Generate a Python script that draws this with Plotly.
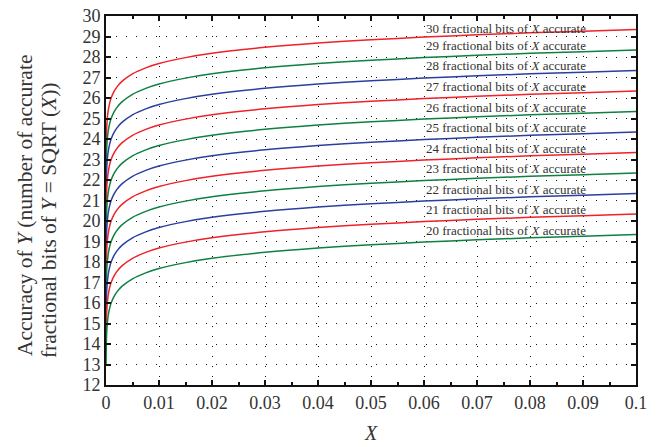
import plotly.graph_objects as go

# X values (sample positions)
x_vals = [0.0000153, 0.00003, 0.00006, 0.0001, 0.0002, 0.0004, 0.0007, 0.001, 0.0015,
          0.002, 0.003, 0.005, 0.0075, 0.01, 0.015, 0.02, 0.03, 0.04, 0.05, 0.06,
          0.07, 0.08, 0.09, 0.1]

acc_30 = [23.00, 23.49, 23.99, 24.36, 24.86, 25.36, 25.76, 26.02, 26.31, 26.52, 26.81, 27.18, 27.47, 27.68, 27.97, 28.18, 28.47, 28.68, 28.84, 28.97, 29.08, 29.18, 29.26, 29.34]
acc_29 = [22.00, 22.49, 22.99, 23.36, 23.86, 24.36, 24.76, 25.02, 25.31, 25.52, 25.81, 26.18, 26.47, 26.68, 26.97, 27.18, 27.47, 27.68, 27.84, 27.97, 28.08, 28.18, 28.26, 28.34]
acc_28 = [21.00, 21.49, 21.99, 22.36, 22.86, 23.36, 23.76, 24.02, 24.31, 24.52, 24.81, 25.18, 25.47, 25.68, 25.97, 26.18, 26.47, 26.68, 26.84, 26.97, 27.08, 27.18, 27.26, 27.34]
acc_27 = [20.00, 20.49, 20.99, 21.36, 21.86, 22.36, 22.76, 23.02, 23.31, 23.52, 23.81, 24.18, 24.47, 24.68, 24.97, 25.18, 25.47, 25.68, 25.84, 25.97, 26.08, 26.18, 26.26, 26.34]
acc_26 = [19.00, 19.49, 19.99, 20.36, 20.86, 21.36, 21.76, 22.02, 22.31, 22.52, 22.81, 23.18, 23.47, 23.68, 23.97, 24.18, 24.47, 24.68, 24.84, 24.97, 25.08, 25.18, 25.26, 25.34]
acc_25 = [18.00, 18.49, 18.99, 19.36, 19.86, 20.36, 20.76, 21.02, 21.31, 21.52, 21.81, 22.18, 22.47, 22.68, 22.97, 23.18, 23.47, 23.68, 23.84, 23.97, 24.08, 24.18, 24.26, 24.34]
acc_24 = [17.00, 17.49, 17.99, 18.36, 18.86, 19.36, 19.76, 20.02, 20.31, 20.52, 20.81, 21.18, 21.47, 21.68, 21.97, 22.18, 22.47, 22.68, 22.84, 22.97, 23.08, 23.18, 23.26, 23.34]
acc_23 = [16.00, 16.49, 16.99, 17.36, 17.86, 18.36, 18.76, 19.02, 19.31, 19.52, 19.81, 20.18, 20.47, 20.68, 20.97, 21.18, 21.47, 21.68, 21.84, 21.97, 22.08, 22.18, 22.26, 22.34]
acc_22 = [15.00, 15.49, 15.99, 16.36, 16.86, 17.36, 17.76, 18.02, 18.31, 18.52, 18.81, 19.18, 19.47, 19.68, 19.97, 20.18, 20.47, 20.68, 20.84, 20.97, 21.08, 21.18, 21.26, 21.34]
acc_21 = [14.00, 14.49, 14.99, 15.36, 15.86, 16.36, 16.76, 17.02, 17.31, 17.52, 17.81, 18.18, 18.47, 18.68, 18.97, 19.18, 19.47, 19.68, 19.84, 19.97, 20.08, 20.18, 20.26, 20.34]
acc_20 = [13.00, 13.49, 13.99, 14.36, 14.86, 15.36, 15.76, 16.02, 16.31, 16.52, 16.81, 17.18, 17.47, 17.68, 17.97, 18.18, 18.47, 18.68, 18.84, 18.97, 19.08, 19.18, 19.26, 19.34]

bits = [30, 29, 28, 27, 26, 25, 24, 23, 22, 21, 20]
series = [acc_30, acc_29, acc_28, acc_27, acc_26, acc_25, acc_24, acc_23, acc_22, acc_21, acc_20]
label_y = [29.41, 28.58, 27.57, 26.54, 25.56, 24.56, 23.53, 22.56, 21.55, 20.54, 19.56]
label_x = 0.06

y_title_lines = ["Accuracy of <i>Y</i> (number of accurate",
                 "fractional bits of <i>Y</i> = SQRT (<i>X</i>))"]

RED, GREEN, BLUE = "#ee2228", "#0e8040", "#2a3f9e"
colors = [RED, GREEN, BLUE] * 4

FONT = "Liberation Serif"
TXT = "#333333"

fig = go.Figure()
for n, ys, c in zip(bits, series, colors):
    fig.add_trace(go.Scatter(x=x_vals, y=ys, mode="lines",
                             line=dict(color=c, width=1.5, shape="spline", smoothing=0.8),
                             showlegend=False, hoverinfo="skip"))

for n, ly in zip(bits, label_y):
    fig.add_annotation(x=label_x, y=ly, xref="x", yref="y",
                       text=f"{n} fractional bits of <i>X</i> accurate",
                       showarrow=False, xanchor="left", yanchor="middle",
                       font=dict(family=FONT, size=13, color=TXT))

# Y-axis title: two rotated lines
for txt, py, xs in zip(y_title_lines, [0.485, 0.447], [-81, -57]):
    fig.add_annotation(x=0, y=py, xref="paper", yref="paper", text=txt,
                       textangle=-90, showarrow=False, xanchor="center", yanchor="middle",
                       xshift=xs, font=dict(family=FONT, size=21.5, color=TXT))

axis_common = dict(
    showline=True, linecolor="#111111", linewidth=2, mirror="ticks",
    ticks="inside", ticklen=5, tickwidth=1.5, tickcolor="#111111",
    showgrid=True, gridcolor="#111111", gridwidth=1, griddash="1px,9px",
    zeroline=False, automargin=False,
    tickfont=dict(family=FONT, size=18, color=TXT),
)

fig.update_xaxes(range=[0, 0.1], dtick=0.01, tick0=0,
                 minor=dict(dtick=0.005, ticks="inside", ticklen=3, tickcolor="#111111", showgrid=False),
                 title=dict(text="<i>X</i>", font=dict(family=FONT, size=20, color=TXT), standoff=14),
                 **axis_common)
fig.update_yaxes(range=[12, 30], dtick=1, tick0=12, **axis_common)

fig.update_layout(
    width=661, height=447,
    margin=dict(l=106, r=25, t=16, b=62),
    plot_bgcolor="white", paper_bgcolor="white",
)

fig.write_html("out.html", config={"displayModeBar": False},
               post_script="document.body.style.margin='0';")
